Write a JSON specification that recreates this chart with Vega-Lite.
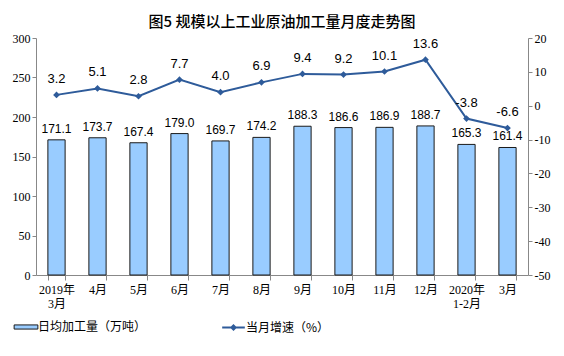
{
  "$schema": "https://vega.github.io/schema/vega-lite/v6.json",
  "width": 564,
  "height": 356,
  "autosize": {"type": "fit", "contains": "padding"},
  "padding": {"left": 12, "right": 14, "top": 15, "bottom": 47},
  "background": "white",
  "title": {"text": "图5  规模以上工业原油加工量月度走势图", "font": "Noto Sans CJK SC", "fontSize": 15, "fontWeight": 500, "color": "#000", "offset": 2},
  "config": {
    "locale": {"number": {"decimal": ".", "thousands": ",", "grouping": [3], "currency": ["", ""], "minus": "-"}},
    "view": {"stroke": null},
    "legend": {"orient": "none", "direction": "horizontal", "title": null, "labelFont": "Noto Sans CJK SC", "labelFontSize": 12, "labelColor": "#000"}
  },
  "data": {"values": [
    {"月份": "2019年 3月", "日均加工量": 171.1, "当月增速": 3.2},
    {"月份": "4月", "日均加工量": 173.7, "当月增速": 5.1},
    {"月份": "5月", "日均加工量": 167.4, "当月增速": 2.8},
    {"月份": "6月", "日均加工量": 179.0, "当月增速": 7.7},
    {"月份": "7月", "日均加工量": 169.7, "当月增速": 4.0},
    {"月份": "8月", "日均加工量": 174.2, "当月增速": 6.9},
    {"月份": "9月", "日均加工量": 188.3, "当月增速": 9.4},
    {"月份": "10月", "日均加工量": 186.6, "当月增速": 9.2},
    {"月份": "11月", "日均加工量": 186.9, "当月增速": 10.1},
    {"月份": "12月", "日均加工量": 188.7, "当月增速": 13.6},
    {"月份": "2020年 1-2月", "日均加工量": 165.3, "当月增速": -3.8},
    {"月份": "3月 ", "日均加工量": 161.4, "当月增速": -6.6}
  ]},
  "encoding": {
    "x": {
      "field": "月份", "type": "ordinal", "sort": null,
      "scale": {"paddingInner": 0.58, "paddingOuter": 0.29},
      "axis": {"title": null, "labelAngle": 0, "labelExpr": "split(datum.label, ' ')", "labelFont": "Liberation Serif, Noto Sans CJK SC", "labelFontSize": 12, "labelColor": "#000", "domainColor": "#888", "tickColor": "#888", "tickBand": "extent", "tickSize": 5, "labelPadding": 4}
    }
  },
  "layer": [
    {
      "encoding": {
        "y": {"field": "日均加工量", "type": "quantitative", "scale": {"domain": [0, 300]},
              "axis": {"title": null, "orient": "left", "values": [0, 50, 100, 150, 200, 250, 300], "grid": false, "domainColor": "#888", "tickColor": "#888", "tickSize": 4, "labelFont": "Liberation Serif", "labelFontSize": 12, "labelColor": "#000"}}
      },
      "layer": [
        {
          "mark": {"type": "bar", "stroke": "#1a1a1a", "strokeWidth": 1},
          "encoding": {
            "fill": {"datum": "日均加工量（万吨）", "type": "nominal", "scale": {"range": ["#99ccff"]},
                     "legend": {"legendX": -18, "legendY": 281, "symbolType": "M-1.6,-0.28H1.6V0.28H-1.6Z", "symbolSize": 220, "symbolStrokeColor": "#1a1a1a", "symbolStrokeWidth": 1}}
          }
        },
        {
          "mark": {"type": "text", "baseline": "bottom", "dy": -4, "font": "Arial, Liberation Sans", "fontSize": 12, "color": "#000"},
          "encoding": {"text": {"field": "日均加工量", "type": "quantitative", "format": ".1f"}}
        }
      ]
    },
    {
      "encoding": {
        "y": {"field": "当月增速", "type": "quantitative", "scale": {"domain": [-50, 20]},
              "axis": {"title": null, "orient": "right", "values": [-50, -40, -30, -20, -10, 0, 10, 20], "grid": false, "domainColor": "#888", "tickColor": "#888", "tickSize": 4, "labelFont": "Liberation Serif", "labelFontSize": 12, "labelColor": "#000"}}
      },
      "layer": [
        {
          "mark": {"type": "line", "strokeWidth": 2, "point": {"shape": "diamond", "size": 45, "filled": true}},
          "encoding": {
            "color": {"datum": "当月增速（%）", "type": "nominal", "scale": {"range": ["#2e5b9a"]},
                      "legend": {"legendX": 189, "legendY": 281, "symbolType": "M-1.6,0H1.6M0,-0.3L0.3,0L0,0.3L-0.3,0Z", "symbolSize": 200, "symbolStrokeWidth": 2}}
          }
        },
        {
          "mark": {"type": "text", "baseline": "bottom", "dy": -9, "font": "Arial, Liberation Sans", "fontSize": 13, "color": "#000"},
          "encoding": {"text": {"field": "当月增速", "type": "quantitative", "format": ".1f"}}
        }
      ]
    }
  ],
  "resolve": {"scale": {"y": "independent", "fill": "independent", "color": "independent"}}
}
